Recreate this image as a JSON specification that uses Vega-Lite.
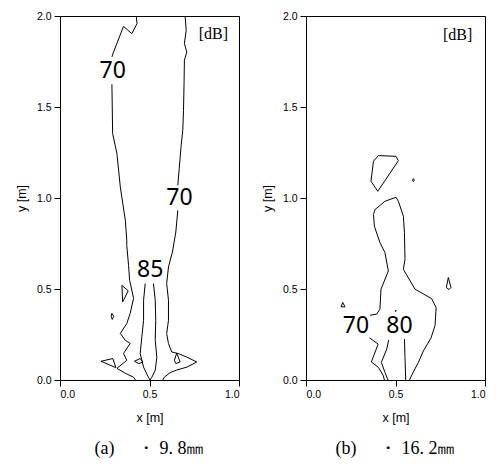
{
  "$schema": "https://vega.github.io/schema/vega-lite/v6.json",
  "padding": {"left": 14, "top": 10, "right": 5, "bottom": 2},
  "background": "white",
  "config": {
    "view": {"stroke": "black", "strokeWidth": 1},
    "axis": {
      "grid": false, "domainColor": "black", "tickColor": "black", "labelColor": "black", "titleColor": "black",
      "labelFont": "Liberation Sans", "labelFontSize": 10.5, "titleFont": "Liberation Sans", "titleFontSize": 12.5,
      "titleFontWeight": "normal", "tickSize": 6, "labelPadding": 3
    },
    "hconcat": {"spacing": 27}
  },
  "datasets": {
    "lines": [
      {"p":"a","s":1,"i":0,"x":0.426,"y":2.0},{"p":"a","s":1,"i":1,"x":0.430,"y":1.958},{"p":"a","s":1,"i":2,"x":0.401,"y":1.903},{"p":"a","s":1,"i":3,"x":0.355,"y":1.943},{"p":"a","s":1,"i":4,"x":0.299,"y":1.802},{"p":"a","s":1,"i":5,"x":0.290,"y":1.775},
      {"p":"a","s":2,"i":0,"x":0.290,"y":1.625},{"p":"a","s":2,"i":1,"x":0.294,"y":1.354},{"p":"a","s":2,"i":2,"x":0.318,"y":1.244},{"p":"a","s":2,"i":3,"x":0.337,"y":1.060},{"p":"a","s":2,"i":4,"x":0.365,"y":0.877},{"p":"a","s":2,"i":5,"x":0.373,"y":0.768},{"p":"a","s":2,"i":6,"x":0.373,"y":0.739},{"p":"a","s":2,"i":7,"x":0.383,"y":0.630},{"p":"a","s":2,"i":8,"x":0.389,"y":0.548},{"p":"a","s":2,"i":9,"x":0.411,"y":0.449},{"p":"a","s":2,"i":10,"x":0.392,"y":0.366},{"p":"a","s":2,"i":11,"x":0.373,"y":0.310},{"p":"a","s":2,"i":12,"x":0.337,"y":0.256},{"p":"a","s":2,"i":13,"x":0.365,"y":0.218},{"p":"a","s":2,"i":14,"x":0.392,"y":0.201},{"p":"a","s":2,"i":15,"x":0.355,"y":0.146},{"p":"a","s":2,"i":16,"x":0.373,"y":0.108},{"p":"a","s":2,"i":17,"x":0.318,"y":0.064},{"p":"a","s":2,"i":18,"x":0.365,"y":0.037},{"p":"a","s":2,"i":19,"x":0.411,"y":0.015},{"p":"a","s":2,"i":20,"x":0.422,"y":0.0},
      {"p":"a","s":3,"i":0,"x":0.699,"y":2.0},{"p":"a","s":3,"i":1,"x":0.705,"y":1.921},{"p":"a","s":3,"i":2,"x":0.695,"y":1.850},{"p":"a","s":3,"i":3,"x":0.708,"y":1.801},{"p":"a","s":3,"i":4,"x":0.695,"y":1.757},{"p":"a","s":3,"i":5,"x":0.693,"y":1.630},{"p":"a","s":3,"i":6,"x":0.690,"y":1.482},{"p":"a","s":3,"i":7,"x":0.686,"y":1.372},{"p":"a","s":3,"i":8,"x":0.677,"y":1.290},{"p":"a","s":3,"i":9,"x":0.666,"y":1.161},{"p":"a","s":3,"i":10,"x":0.658,"y":1.070},
      {"p":"a","s":4,"i":0,"x":0.658,"y":0.932},{"p":"a","s":4,"i":1,"x":0.647,"y":0.813},{"p":"a","s":4,"i":2,"x":0.628,"y":0.703},{"p":"a","s":4,"i":3,"x":0.606,"y":0.621},{"p":"a","s":4,"i":4,"x":0.596,"y":0.530},{"p":"a","s":4,"i":5,"x":0.606,"y":0.438},{"p":"a","s":4,"i":6,"x":0.606,"y":0.328},{"p":"a","s":4,"i":7,"x":0.596,"y":0.255},{"p":"a","s":4,"i":8,"x":0.606,"y":0.200},{"p":"a","s":4,"i":9,"x":0.624,"y":0.154},{"p":"a","s":4,"i":10,"x":0.662,"y":0.145},{"p":"a","s":4,"i":11,"x":0.708,"y":0.126},{"p":"a","s":4,"i":12,"x":0.764,"y":0.099},{"p":"a","s":4,"i":13,"x":0.710,"y":0.071},{"p":"a","s":4,"i":14,"x":0.652,"y":0.055},{"p":"a","s":4,"i":15,"x":0.615,"y":0.040},{"p":"a","s":4,"i":16,"x":0.583,"y":0.016},{"p":"a","s":4,"i":17,"x":0.574,"y":0.0},
      {"p":"a","s":5,"i":0,"x":0.476,"y":0.530},{"p":"a","s":5,"i":1,"x":0.467,"y":0.438},{"p":"a","s":5,"i":2,"x":0.467,"y":0.328},{"p":"a","s":5,"i":3,"x":0.457,"y":0.235},{"p":"a","s":5,"i":4,"x":0.448,"y":0.146},{"p":"a","s":5,"i":5,"x":0.467,"y":0.070},{"p":"a","s":5,"i":6,"x":0.494,"y":0.015},{"p":"a","s":5,"i":7,"x":0.503,"y":0.0},
      {"p":"a","s":6,"i":0,"x":0.522,"y":0.530},{"p":"a","s":6,"i":1,"x":0.532,"y":0.438},{"p":"a","s":6,"i":2,"x":0.535,"y":0.328},{"p":"a","s":6,"i":3,"x":0.532,"y":0.218},{"p":"a","s":6,"i":4,"x":0.541,"y":0.125},{"p":"a","s":6,"i":5,"x":0.532,"y":0.053},{"p":"a","s":6,"i":6,"x":0.513,"y":0.015},{"p":"a","s":6,"i":7,"x":0.503,"y":0.0},
      {"p":"a","s":7,"i":0,"x":0.229,"y":0.103},{"p":"a","s":7,"i":1,"x":0.295,"y":0.118},{"p":"a","s":7,"i":2,"x":0.312,"y":0.068},{"p":"a","s":7,"i":3,"x":0.229,"y":0.103},
      {"p":"a","s":8,"i":0,"x":0.416,"y":0.103},{"p":"a","s":8,"i":1,"x":0.448,"y":0.118},{"p":"a","s":8,"i":2,"x":0.463,"y":0.099},{"p":"a","s":8,"i":3,"x":0.440,"y":0.090},{"p":"a","s":8,"i":4,"x":0.416,"y":0.103},
      {"p":"a","s":9,"i":0,"x":0.652,"y":0.148},{"p":"a","s":9,"i":1,"x":0.671,"y":0.099},{"p":"a","s":9,"i":2,"x":0.647,"y":0.090},{"p":"a","s":9,"i":3,"x":0.639,"y":0.108},{"p":"a","s":9,"i":4,"x":0.652,"y":0.148},
      {"p":"a","s":10,"i":0,"x":0.290,"y":0.366},{"p":"a","s":10,"i":1,"x":0.300,"y":0.350},{"p":"a","s":10,"i":2,"x":0.292,"y":0.333},{"p":"a","s":10,"i":3,"x":0.286,"y":0.350},{"p":"a","s":10,"i":4,"x":0.290,"y":0.366},
      {"p":"a","s":11,"i":0,"x":0.346,"y":0.520},{"p":"a","s":11,"i":1,"x":0.381,"y":0.490},{"p":"a","s":11,"i":2,"x":0.350,"y":0.429},{"p":"a","s":11,"i":3,"x":0.346,"y":0.520},
      {"p":"b","s":1,"i":0,"x":0.404,"y":1.233},{"p":"b","s":1,"i":1,"x":0.503,"y":1.229},{"p":"b","s":1,"i":2,"x":0.516,"y":1.205},{"p":"b","s":1,"i":3,"x":0.401,"y":1.037},{"p":"b","s":1,"i":4,"x":0.363,"y":1.092},{"p":"b","s":1,"i":5,"x":0.377,"y":1.202},{"p":"b","s":1,"i":6,"x":0.404,"y":1.233},
      {"p":"b","s":2,"i":0,"x":0.600,"y":1.106},{"p":"b","s":2,"i":1,"x":0.605,"y":1.098},{"p":"b","s":2,"i":2,"x":0.600,"y":1.090},{"p":"b","s":2,"i":3,"x":0.595,"y":1.098},{"p":"b","s":2,"i":4,"x":0.600,"y":1.106},
      {"p":"b","s":3,"i":0,"x":0.358,"y":0.356},{"p":"b","s":3,"i":1,"x":0.395,"y":0.362},{"p":"b","s":3,"i":2,"x":0.413,"y":0.389},{"p":"b","s":3,"i":3,"x":0.419,"y":0.499},{"p":"b","s":3,"i":4,"x":0.460,"y":0.599},{"p":"b","s":3,"i":5,"x":0.441,"y":0.700},{"p":"b","s":3,"i":6,"x":0.413,"y":0.755},{"p":"b","s":3,"i":7,"x":0.382,"y":0.845},{"p":"b","s":3,"i":8,"x":0.377,"y":0.910},{"p":"b","s":3,"i":9,"x":0.386,"y":0.937},{"p":"b","s":3,"i":10,"x":0.441,"y":0.982},{"p":"b","s":3,"i":11,"x":0.503,"y":1.004},{"p":"b","s":3,"i":12,"x":0.516,"y":0.982},{"p":"b","s":3,"i":13,"x":0.544,"y":0.900},{"p":"b","s":3,"i":14,"x":0.550,"y":0.809},{"p":"b","s":3,"i":15,"x":0.553,"y":0.663},{"p":"b","s":3,"i":16,"x":0.544,"y":0.608},{"p":"b","s":3,"i":17,"x":0.609,"y":0.499},{"p":"b","s":3,"i":18,"x":0.702,"y":0.447},{"p":"b","s":3,"i":19,"x":0.727,"y":0.398},{"p":"b","s":3,"i":20,"x":0.721,"y":0.300},{"p":"b","s":3,"i":21,"x":0.698,"y":0.230},{"p":"b","s":3,"i":22,"x":0.656,"y":0.160},{"p":"b","s":3,"i":23,"x":0.628,"y":0.097},{"p":"b","s":3,"i":24,"x":0.600,"y":0.045},{"p":"b","s":3,"i":25,"x":0.578,"y":0.0},
      {"p":"b","s":4,"i":0,"x":0.355,"y":0.232},{"p":"b","s":4,"i":1,"x":0.403,"y":0.197},{"p":"b","s":4,"i":2,"x":0.365,"y":0.099},{"p":"b","s":4,"i":3,"x":0.404,"y":0.070},{"p":"b","s":4,"i":4,"x":0.432,"y":0.024},{"p":"b","s":4,"i":5,"x":0.438,"y":0.0},
      {"p":"b","s":5,"i":0,"x":0.462,"y":0.220},{"p":"b","s":5,"i":1,"x":0.451,"y":0.170},{"p":"b","s":5,"i":2,"x":0.421,"y":0.097},{"p":"b","s":5,"i":3,"x":0.441,"y":0.042},{"p":"b","s":5,"i":4,"x":0.458,"y":0.0},
      {"p":"b","s":6,"i":0,"x":0.550,"y":0.225},{"p":"b","s":6,"i":1,"x":0.553,"y":0.124},{"p":"b","s":6,"i":2,"x":0.557,"y":0.0},
      {"p":"b","s":7,"i":0,"x":0.501,"y":0.384},{"p":"b","s":7,"i":1,"x":0.503,"y":0.380},{"p":"b","s":7,"i":2,"x":0.501,"y":0.376},{"p":"b","s":7,"i":3,"x":0.499,"y":0.380},{"p":"b","s":7,"i":4,"x":0.501,"y":0.384},
      {"p":"b","s":8,"i":0,"x":0.205,"y":0.426},{"p":"b","s":8,"i":1,"x":0.218,"y":0.402},{"p":"b","s":8,"i":2,"x":0.196,"y":0.402},{"p":"b","s":8,"i":3,"x":0.205,"y":0.426},
      {"p":"b","s":9,"i":0,"x":0.795,"y":0.563},{"p":"b","s":9,"i":1,"x":0.810,"y":0.508},{"p":"b","s":9,"i":2,"x":0.799,"y":0.497},{"p":"b","s":9,"i":3,"x":0.784,"y":0.508},{"p":"b","s":9,"i":4,"x":0.795,"y":0.563}
    ],
    "labels": [
      {"p":"a","t":"70","x":0.294,"y":1.698},
      {"p":"a","t":"70","x":0.667,"y":1.002},
      {"p":"a","t":"85","x":0.504,"y":0.603},
      {"p":"b","t":"70","x":0.279,"y":0.298},
      {"p":"b","t":"80","x":0.522,"y":0.298}
    ],
    "units": [
      {"p":"a","t":"[dB]","x":0.857,"y":1.903},
      {"p":"b","t":"[dB]","x":0.847,"y":1.896}
    ]
  },
  "hconcat": [
    {
      "width": 179, "height": 364,
      "title": {"text": "(a)　 ・ 9. 8㎜", "orient": "bottom", "font": "Liberation Serif", "fontSize": 18, "fontWeight": "normal", "color": "black", "offset": 16},
      "layer": [
        {
          "data": {"name": "lines"},
          "transform": [{"filter": "datum.p == 'a'"}],
          "mark": {"type": "line", "color": "black", "strokeWidth": 1},
          "encoding": {
            "x": {"field": "x", "type": "quantitative", "scale": {"domain": [0, 1], "nice": false}, "axis": {"title": "x [m]", "values": [0, 0.5, 1], "format": ".1f", "titlePadding": 12}},
            "y": {"field": "y", "type": "quantitative", "scale": {"domain": [0, 2], "nice": false}, "axis": {"title": "y [m]", "values": [0, 0.5, 1, 1.5, 2], "format": ".1f", "titlePadding": 8}},
            "detail": {"field": "s", "type": "nominal"},
            "order": {"field": "i", "type": "quantitative"}
          }
        },
        {
          "data": {"name": "labels"},
          "transform": [{"filter": "datum.p == 'a'"}],
          "mark": {"type": "text", "font": "Noto Sans", "fontSize": 23, "color": "black", "align": "center", "baseline": "middle"},
          "encoding": {"x": {"field": "x", "type": "quantitative"}, "y": {"field": "y", "type": "quantitative"}, "text": {"field": "t"}}
        },
        {
          "data": {"name": "units"},
          "transform": [{"filter": "datum.p == 'a'"}],
          "mark": {"type": "text", "font": "Liberation Serif", "fontSize": 16, "color": "black", "align": "center", "baseline": "middle"},
          "encoding": {"x": {"field": "x", "type": "quantitative"}, "y": {"field": "y", "type": "quantitative"}, "text": {"field": "t"}}
        }
      ]
    },
    {
      "width": 179, "height": 364,
      "title": {"text": "(b)　 ・ 16. 2㎜", "orient": "bottom", "font": "Liberation Serif", "fontSize": 18, "fontWeight": "normal", "color": "black", "offset": 16},
      "layer": [
        {
          "data": {"name": "lines"},
          "transform": [{"filter": "datum.p == 'b'"}],
          "mark": {"type": "line", "color": "black", "strokeWidth": 1},
          "encoding": {
            "x": {"field": "x", "type": "quantitative", "scale": {"domain": [0, 1], "nice": false}, "axis": {"title": "x [m]", "values": [0, 0.5, 1], "format": ".1f", "titlePadding": 12}},
            "y": {"field": "y", "type": "quantitative", "scale": {"domain": [0, 2], "nice": false}, "axis": {"title": "y [m]", "values": [0, 0.5, 1, 1.5, 2], "format": ".1f", "titlePadding": 8}},
            "detail": {"field": "s", "type": "nominal"},
            "order": {"field": "i", "type": "quantitative"}
          }
        },
        {
          "data": {"name": "labels"},
          "transform": [{"filter": "datum.p == 'b'"}],
          "mark": {"type": "text", "font": "Noto Sans", "fontSize": 23, "color": "black", "align": "center", "baseline": "middle"},
          "encoding": {"x": {"field": "x", "type": "quantitative"}, "y": {"field": "y", "type": "quantitative"}, "text": {"field": "t"}}
        },
        {
          "data": {"name": "units"},
          "transform": [{"filter": "datum.p == 'b'"}],
          "mark": {"type": "text", "font": "Liberation Serif", "fontSize": 16, "color": "black", "align": "center", "baseline": "middle"},
          "encoding": {"x": {"field": "x", "type": "quantitative"}, "y": {"field": "y", "type": "quantitative"}, "text": {"field": "t"}}
        }
      ]
    }
  ]
}
